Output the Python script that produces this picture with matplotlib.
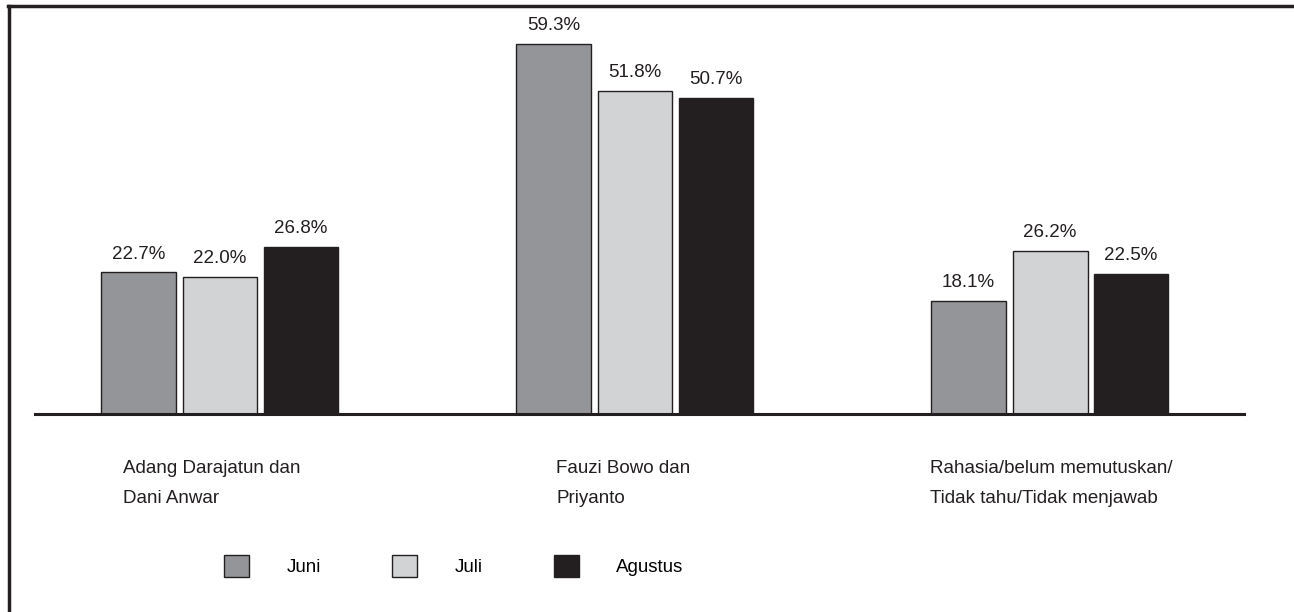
import matplotlib
matplotlib.use('Agg')
import matplotlib.pyplot as plt
import numpy as np
from matplotlib.lines import Line2D

categories = ['Adang Darajatun dan\nDani Anwar', 'Fauzi Bowo dan\nPriyanto',
              'Rahasia/belum memutuskan/\nTidak tahu/Tidak menjawab']
months = ['Juni', 'Juli', 'Agustus']
juni = [22.7, 59.3, 18.1]
juli = [22.0, 51.8, 26.2]
agustus = [26.8, 50.7, 22.5]
colors = ['#939598', '#d1d3d4', '#231f20']

plt.rcParams['font.family'] = ['Liberation Sans', 'DejaVu Sans']
fs = 13.5

fig = plt.figure(figsize=(12.94, 6.12), dpi=100)
ax = fig.add_axes([35 / 1294, (612 - 414) / 612, 1209 / 1294, 408 / 612])

x = np.arange(len(categories))
width = 0.18
offsets = [-0.197, 0, 0.195]
handles = []
for vals, off, col, name in zip([juni, juli, agustus], offsets, colors, months):
    bars = ax.bar(x + off, vals, width, color=col, edgecolor='#231f20', linewidth=1, label=name)
    handles.append(bars)
    for b, v in zip(bars, vals):
        ax.annotate(f'{v:.1f}%', (b.get_x() + b.get_width() / 2, v), xytext=(0, 7),
                    textcoords='offset points', ha='center', va='bottom', fontsize=fs, color='#231f20')

ax.set_xlim(-0.446, 2.467)
ax.set_ylim(0, 65.4)
for s in ['top', 'right', 'left']:
    ax.spines[s].set_visible(False)
ax.spines['bottom'].set_linewidth(2.2)
ax.spines['bottom'].set_color('#231f20')
ax.set_xticks([])
ax.set_yticks([])

# category labels, left aligned below the groups
label_x = [-0.235, 0.81, 1.71]
for lx, cat in zip(label_x, categories):
    ax.text(lx, -7.3, cat, ha='left', va='top', fontsize=fs, color='#231f20', linespacing=2.0)

fig.legend(handles=handles, labels=months, loc='center left', bbox_to_anchor=(207 / 1294, (612 - 566) / 612),
           ncol=3, frameon=False, fontsize=fs, handlelength=1.33, handleheight=1.5,
           handletextpad=2.0, columnspacing=3.8)

# frame lines on top and left
fig.add_artist(Line2D([8 / 1294, 1], [1 - 6 / 612, 1 - 6 / 612], color='#231f20', linewidth=2.5))
fig.add_artist(Line2D([9 / 1294, 9 / 1294], [0, 1 - 6 / 612], color='#231f20', linewidth=2.5))

fig.savefig('out.png', dpi=100)
